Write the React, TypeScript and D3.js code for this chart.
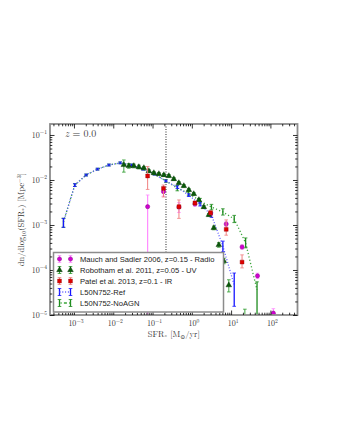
import React, { useEffect, useRef } from "react";
import * as d3 from "d3";

// model bins (EAGLE L50N752)
const MODEL_SFR = [5.4e-4, 1.05e-3, 2.04e-3, 3.98e-3, 7.76e-3, 1.51e-2, 2.95e-2, 5.75e-2, 0.112, 0.219, 0.427, 0.832, 1.62, 3.16, 6.17, 12.0, 23.4, 45.7];
const REF_PHI = [1.17e-3, 7.7e-3, 1.29e-2, 1.74e-2, 2.15e-2, 2.4e-2, 2.15e-2, 1.74e-2, 1.35e-2, 9.5e-3, 6.9e-3, 4.6e-3, 2.9e-3, 1.66e-3, 3.4e-4, 4.6e-5];
const REF_UP = [0.08, 0.03, 0.02, 0.02, 0.02, 0.02, 0.02, 0.02, 0.02, 0.02, 0.03, 0.03, 0.04, 0.05, 0.11, 0.27];
const REF_DN = [0.12, 0.03, 0.02, 0.02, 0.02, 0.02, 0.02, 0.02, 0.02, 0.02, 0.03, 0.03, 0.04, 0.05, 0.13, 0.47];
const NOAGN_PHI = [1.17e-3, 7.7e-3, 1.29e-2, 1.74e-2, 2.15e-2, 2.4e-2, 2.15e-2, 1.74e-2, 1.35e-2, 9.5e-3, 6.6e-3, 5.1e-3, 3.4e-3, 2.5e-3, 1.95e-3, 1.36e-3, 4.0e-4, 3.6e-5];
const NOAGN_UP = [0.08, 0.03, 0.02, 0.02, 0.02, 0.02, 0.02, 0.02, 0.02, 0.03, 0.06, 0.05, 0.06, 0.06, 0.07, 0.08, 0.11, 0.18];
const NOAGN_DN = [0.12, 0.03, 0.02, 0.02, 0.02, 0.02, 0.02, 0.02, 0.02, 0.03, 0.06, 0.05, 0.06, 0.06, 0.07, 0.08, 0.11, 3];

// Mauch & Sadler 2006 (radio)
const MAUCH_SFR = [0.075, 0.19, 0.47, 1.2, 3.0, 7.5, 19, 47, 119];
const MAUCH_PHI = [2.55e-3, 5.5e-3, 2.5e-3, 2.93e-3, 1.75e-3, 1.05e-3, 3.24e-4, 7.4e-5, 1.1e-5];
const MAUCH_UP = [0.26, 0.08, 0.1, 0.05, 0.05, 0.05, 0.05, 0.06, 0.1];
const MAUCH_DN = [3, 0.1, 0.12, 0.05, 0.05, 0.05, 0.05, 0.06, 0.1];

// Robotham et al. 2011 (UV)
const ROB_SFR = [0.0186, 0.0249, 0.0334, 0.0448, 0.0601, 0.0805, 0.108, 0.145, 0.194, 0.26, 0.348, 0.467, 0.626, 0.839, 1.12, 1.51, 2.02, 2.71, 3.63, 4.86, 6.52, 8.74, 22.4];
const ROB_PHI = [0.0216, 0.0205, 0.0205, 0.0194, 0.0185, 0.0158, 0.0143, 0.0136, 0.0129, 0.0123, 0.0105, 0.00858, 0.00736, 0.006, 0.00489, 0.0036, 0.00251, 0.00167, 8.6e-4, 3.6e-4, 1.58e-4, 4.6e-5, 5e-6];
const ROB_UP = [0.11, 0.05, 0.04, 0.04, 0.03, 0.03, 0.03, 0.03, 0.03, 0.03, 0.03, 0.03, 0.03, 0.03, 0.03, 0.03, 0.03, 0.03, 0.04, 0.05, 0.06, 0.12, 0.43];
const ROB_DN = [0.16, 0.05, 0.04, 0.04, 0.03, 0.03, 0.03, 0.03, 0.03, 0.03, 0.03, 0.03, 0.03, 0.03, 0.03, 0.03, 0.03, 0.03, 0.04, 0.05, 0.06, 0.15, 0.3];

// Patel et al. 2013 (IR)
const PATEL_SFR = [0.075, 0.19, 0.47, 1.2, 3.0, 7.5, 19];
const PATEL_PHI = [0.0123, 6.5e-3, 2.55e-3, 3.08e-3, 1.87e-3, 8.0e-4, 1.5e-4];
const PATEL_UP = [0.21, 0.075, 0.15, 0.04, 0.04, 0.21, 0.16];
const PATEL_DN = [0.3, 0.19, 0.26, 0.04, 0.04, 0.13, 0.13];

const X_MAJOR = [1e-3, 1e-2, 1e-1, 1, 10, 100];
const X_EXP = ["−3", "−2", "−1", "0", "1", "2"];
const Y_MAJOR = [1e-5, 1e-4, 1e-3, 1e-2, 1e-1];
const Y_EXP = ["−5", "−4", "−3", "−2", "−1"];
const SFR_CUT = 0.22;
const LEGEND = [
  "Mauch and Sadler 2006, z=0.15 - Radio",
  "Robotham et al. 2011, z=0.05 - UV",
  "Patel et al. 2013, z=0.1 - IR",
  "L50N752-Ref",
  "L50N752-NoAGN",
];

const SERIF = "'Latin Modern Roman', 'DejaVu Serif', 'Liberation Serif', serif";
const SANS = "'Liberation Sans', Arial, sans-serif";

function minorTicks(lo: number, hi: number) {
  const out: number[] = [];
  for (let e = -6; e <= 3; e++) {
    for (let k = 2; k <= 9; k++) {
      const v = k * 10 ** e;
      if (v > lo && v < hi) out.push(v);
    }
  }
  return out;
}

function drawChart(el: SVGSVGElement) {
  const svg = d3.select(el);
  svg.selectAll("*").remove();

  const L = 50, R = 297.5, T = 124, B = 315;
  const x = d3.scaleLog().domain([10 ** -3.61, 10 ** 2.69]).range([L, R]);
  const y = d3.scaleLog().domain([1e-5, 10 ** -0.756]).range([B, T]);

  svg.append("rect").attr("width", 340).attr("height", 440).attr("fill", "white");

  svg.append("defs").append("clipPath").attr("id", "plotclip")
    .append("rect").attr("x", L).attr("y", T).attr("width", R - L).attr("height", B - T);

  const plot = svg.append("g").attr("clip-path", "url(#plotclip)");

  // vertical dotted line
  plot.append("line")
    .attr("x1", x(SFR_CUT)).attr("x2", x(SFR_CUT))
    .attr("y1", T).attr("y2", B)
    .attr("stroke", "#222").attr("stroke-width", 1).attr("stroke-dasharray", "1,1.5");

  const errbars = (g: any, xs: number[], ph: number[], up: number[], dn: number[], color: string, cap: number, sw: number) => {
    ph.forEach((p, i) => {
      const xx = x(xs[i]);
      const y1 = y(p * 10 ** up[i]);
      const y2 = y(p / 10 ** dn[i]);
      g.append("line").attr("x1", xx).attr("x2", xx).attr("y1", y1).attr("y2", y2)
        .attr("stroke", color).attr("stroke-width", sw);
      [y1, y2].forEach((yy) => {
        g.append("line").attr("x1", xx - cap).attr("x2", xx + cap).attr("y1", yy).attr("y2", yy)
          .attr("stroke", color).attr("stroke-width", 0.8);
      });
    });
  };

  // models
  const refPts = REF_PHI.map((p, i) => [x(MODEL_SFR[i]), y(p)] as [number, number]);
  const noPts = NOAGN_PHI.map((p, i) => [x(MODEL_SFR[i]), y(p)] as [number, number]);
  plot.append("path").attr("d", d3.line()(noPts)).attr("fill", "none")
    .attr("stroke", "#3aa53a").attr("stroke-width", 1.3).attr("stroke-dasharray", "1.2,2.2");
  errbars(plot, MODEL_SFR, NOAGN_PHI, NOAGN_UP, NOAGN_DN, "#1e8c1e", 1.8, 1.3);
  plot.append("path").attr("d", d3.line()(refPts)).attr("fill", "none")
    .attr("stroke", "#5a5aff").attr("stroke-width", 1.3).attr("stroke-dasharray", "1,1.8");
  errbars(plot, MODEL_SFR, REF_PHI, REF_UP, REF_DN, "#1515ff", 1.8, 1.3);

  // observations
  errbars(plot, MAUCH_SFR, MAUCH_PHI, MAUCH_UP, MAUCH_DN, "#ff8cff", 1.8, 1.2);
  plot.selectAll(".mauch").data(MAUCH_PHI).join("circle")
    .attr("cx", (_, i) => x(MAUCH_SFR[i])).attr("cy", (d) => y(d)).attr("r", 2.1)
    .attr("fill", "#d000d0").attr("stroke", "#8a008a").attr("stroke-width", 0.5);

  errbars(plot, ROB_SFR, ROB_PHI, ROB_UP, ROB_DN, "#2a9a2a", 1.8, 0.9);
  const tri = d3.symbol().type(d3.symbolTriangle).size(14)();
  plot.selectAll(".rob").data(ROB_PHI).join("path")
    .attr("d", tri)
    .attr("transform", (d, i) => `translate(${x(ROB_SFR[i])},${y(d)})`)
    .attr("fill", "#0a5a0a").attr("stroke", "#002800").attr("stroke-width", 0.4);

  errbars(plot, PATEL_SFR, PATEL_PHI, PATEL_UP, PATEL_DN, "#f08080", 1.8, 1);
  const sq = d3.symbol().type(d3.symbolSquare).size(15)();
  plot.selectAll(".patel").data(PATEL_PHI).join("path")
    .attr("d", sq)
    .attr("transform", (d, i) => `translate(${x(PATEL_SFR[i])},${y(d)})`)
    .attr("fill", "#e00000").attr("stroke", "#900000").attr("stroke-width", 0.4);

  // frame
  svg.append("rect").attr("x", L).attr("y", T).attr("width", R - L).attr("height", B - T)
    .attr("fill", "none").attr("stroke", "#8c8c8c").attr("stroke-width", 1.8);

  // ticks via d3 axes (inward)
  const xMin = minorTicks(x.domain()[0], x.domain()[1]);
  const yMin = minorTicks(y.domain()[0], y.domain()[1]);
  const tickAxis = (axis: any, tr: string) => {
    const g = svg.append("g").attr("transform", tr).call(axis);
    g.select(".domain").remove();
    g.selectAll("line").attr("stroke", "#000").attr("stroke-width", 0.8);
    g.selectAll("text").remove();
  };
  tickAxis(d3.axisBottom(x).tickValues(X_MAJOR).tickSize(-4.5), `translate(0,${B})`);
  tickAxis(d3.axisBottom(x).tickValues(xMin).tickSize(-2.3), `translate(0,${B})`);
  tickAxis(d3.axisTop(x).tickValues(X_MAJOR).tickSize(-4.5), `translate(0,${T})`);
  tickAxis(d3.axisTop(x).tickValues(xMin).tickSize(-2.3), `translate(0,${T})`);
  tickAxis(d3.axisLeft(y).tickValues(Y_MAJOR).tickSize(-4.5), `translate(${L},0)`);
  tickAxis(d3.axisLeft(y).tickValues(yMin).tickSize(-2.3), `translate(${L},0)`);
  tickAxis(d3.axisRight(y).tickValues(Y_MAJOR).tickSize(-4.5), `translate(${R},0)`);
  tickAxis(d3.axisRight(y).tickValues(yMin).tickSize(-2.3), `translate(${R},0)`);

  // tick labels
  X_MAJOR.forEach((v, i) => {
    const t = svg.append("text").attr("x", x(v) + 2).attr("y", B + 11)
      .attr("text-anchor", "middle").attr("font-family", SERIF).attr("font-size", 8).attr("fill", "#333");
    t.append("tspan").text("10");
    t.append("tspan").attr("dy", -3.5).attr("font-size", 5.6).text(X_EXP[i]);
  });
  Y_MAJOR.forEach((v, i) => {
    const t = svg.append("text").attr("x", L - 3).attr("y", y(v) + 3)
      .attr("text-anchor", "end").attr("font-family", SERIF).attr("font-size", 8).attr("fill", "#333");
    t.append("tspan").text("10");
    t.append("tspan").attr("dy", -3.5).attr("font-size", 5.6).text(Y_EXP[i]);
  });

  // axis labels
  const xl = svg.append("text").attr("x", (L + R) / 2).attr("y", B + 22)
    .attr("text-anchor", "middle").attr("font-family", SERIF).attr("font-size", 8.5).attr("fill", "#333");
  xl.append("tspan").text("SFR");
  xl.append("tspan").attr("dy", 2).attr("font-size", 6).text("*");
  xl.append("tspan").attr("dy", -2).text(" [M");
  xl.append("tspan").attr("dy", 2).attr("font-size", 6).text("⊙");
  xl.append("tspan").attr("dy", -2).text("/yr]");

  const yl = svg.append("text").attr("transform", `translate(24,${(T + B) / 2}) rotate(-90)`)
    .attr("text-anchor", "middle").attr("font-family", SERIF).attr("font-size", 8.5).attr("fill", "#333");
  yl.append("tspan").text("dn/dlog");
  yl.append("tspan").attr("dy", 2).attr("font-size", 6).text("10");
  yl.append("tspan").attr("dy", -2).text("(SFR");
  yl.append("tspan").attr("dy", 2).attr("font-size", 6).text("*");
  yl.append("tspan").attr("dy", -2).text(") [Mpc");
  yl.append("tspan").attr("dy", -3.5).attr("font-size", 6).text("−3");
  yl.append("tspan").attr("dy", 3.5).text("]");

  const zt = svg.append("text").attr("x", 65).attr("y", 137)
    .attr("font-family", SERIF).attr("font-size", 10).attr("fill", "#444");
  zt.append("tspan").attr("font-style", "italic").text("z");
  zt.append("tspan").text(" = 0.0");

  // legend
  const lg = svg.append("g");
  lg.append("rect").attr("x", 53.5).attr("y", 252.5).attr("width", 170).attr("height", 59.5)
    .attr("fill", "white").attr("stroke", "#8c8c8c").attr("stroke-width", 1.5);
  const lx = [59.5, 70.5];
  const ly = (i: number) => 259 + i * 11;
  const lbar = (xx: number, yy: number, color: string, h: number, sw: number) => {
    lg.append("line").attr("x1", xx).attr("x2", xx).attr("y1", yy - h).attr("y2", yy + h).attr("stroke", color).attr("stroke-width", sw);
    [yy - h, yy + h].forEach((c) => lg.append("line").attr("x1", xx - 1.8).attr("x2", xx + 1.8).attr("y1", c).attr("y2", c).attr("stroke", color).attr("stroke-width", 0.8));
  };
  lx.forEach((xx) => {
    lbar(xx, ly(0), "#ff8cff", 3.5, 1.2);
    lg.append("circle").attr("cx", xx).attr("cy", ly(0)).attr("r", 2.1).attr("fill", "#d000d0").attr("stroke", "#8a008a").attr("stroke-width", 0.5);
    lbar(xx, ly(1), "#2a9a2a", 3.5, 0.9);
    lg.append("path").attr("d", tri).attr("transform", `translate(${xx},${ly(1)})`).attr("fill", "#0a5a0a").attr("stroke", "#002800").attr("stroke-width", 0.4);
    lbar(xx, ly(2), "#f08080", 3.5, 1);
    lg.append("path").attr("d", sq).attr("transform", `translate(${xx},${ly(2)})`).attr("fill", "#e00000").attr("stroke", "#900000").attr("stroke-width", 0.4);
    lbar(xx, ly(3), "#1515ff", 3.5, 1.3);
    lbar(xx, ly(4), "#1e8c1e", 3.5, 1.3);
  });
  lg.append("line").attr("x1", lx[0]).attr("x2", lx[1]).attr("y1", ly(3)).attr("y2", ly(3))
    .attr("stroke", "#5a5aff").attr("stroke-width", 1.3).attr("stroke-dasharray", "1,1.8");
  lg.append("line").attr("x1", lx[0] + 1).attr("x2", lx[1]).attr("y1", ly(4)).attr("y2", ly(4))
    .attr("stroke", "#3aa53a").attr("stroke-width", 1.3).attr("stroke-dasharray", "1.2,2.2,3,2.2");
  LEGEND.forEach((s, i) => {
    lg.append("text").attr("x", 80).attr("y", ly(i) + 3).attr("font-family", SANS)
      .attr("font-size", 7.6).attr("fill", "#222").text(s);
  });
}

export default function App() {
  const ref = useRef<SVGSVGElement>(null);
  useEffect(() => {
    if (ref.current) drawChart(ref.current);
  }, []);
  return (
    <svg ref={ref} width={340} height={440}
      style={{ position: "absolute", left: 0, top: 0, display: "block" }} />
  );
}
